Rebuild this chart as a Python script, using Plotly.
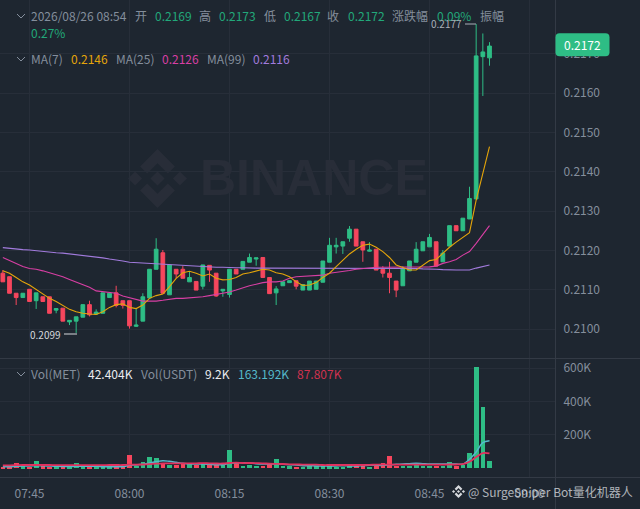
# Recreates the MET/USDT 1m candlestick chart with MA lines and a volume panel
import pandas as pd
import plotly.graph_objects as go

W = 640
H = 509

# Candle values, one per minute from 07:41
times = pd.date_range("2026-08-26 07:41", periods=74, freq="min")
opens = [.21142, .21133, .21091, .21080, .21101, .21072, .21082, .21082, .21048, .21053,
         .21018, .21020, .21030, .21062, .21038, .21040, .21080, .21092, .21072, .21072,
         .21007, .21020, .21079, .21152, .21194, .21087, .21152, .21152, .21120, .21121,
         .21109, .21162, .21142, .21097, .21088, .21152, .21152, .21170, .21178, .21182,
         .21131, .21092, .21110, .21118, .21123, .21099, .21099, .21101, .21119, .21170,
         .21209, .21211, .21231, .21254, .21222, .21198, .21203, .21152, .21142, .21122,
         .21110, .21148, .21170, .21199, .21209, .21222, .21171, .21211, .21263, .21250,
         .21280, .21331, .21693, .21690]
highs = [.21150, .21133, .21091, .21091, .21101, .21092, .21082, .21082, .21052, .21053,
         .21022, .21031, .21062, .21072, .21050, .21092, .21091, .21110, .21072, .21072,
         .21053, .21091, .21152, .21231, .21201, .21163, .21152, .21160, .21146, .21121,
         .21163, .21162, .21142, .21101, .21152, .21152, .21172, .21192, .21181, .21182,
         .21131, .21109, .21120, .21123, .21123, .21113, .21122, .21122, .21173, .21232,
         .21232, .21222, .21262, .21254, .21222, .21221, .21203, .21160, .21171, .21122,
         .21160, .21173, .21221, .21222, .21242, .21222, .21201, .21263, .21263, .21282,
         .21362, .21776, .21752, .21730]
lows = [.21120, .21091, .21061, .21080, .21070, .21051, .21070, .21040, .21040, .21020,
        .21010, .20990, .21030, .21032, .21036, .21040, .21080, .21055, .21052, .21001,
        .21005, .21020, .21079, .21152, .21091, .21087, .21129, .21129, .21120, .21099,
        .21101, .21120, .21082, .21082, .21080, .21140, .21152, .21170, .21161, .21131,
        .21090, .21061, .21110, .21118, .21101, .21099, .21099, .21101, .21119, .21170,
        .21192, .21191, .21222, .21211, .21171, .21197, .21150, .21131, .21091, .21081,
        .21110, .21148, .21170, .21199, .21209, .21160, .21171, .21211, .21250, .21250,
        .21280, .21331, .21593, .21670]
closes = [.21120, .21091, .21080, .21091, .21070, .21092, .21070, .21040, .21052, .21020,
          .21022, .21031, .21062, .21036, .21043, .21092, .21091, .21060, .21060, .21008,
          .21010, .21082, .21152, .21203, .21091, .21163, .21140, .21129, .21131, .21099,
          .21163, .21150, .21084, .21101, .21152, .21140, .21172, .21182, .21181, .21131,
          .21090, .21102, .21120, .21123, .21109, .21113, .21122, .21122, .21173, .21213,
          .21213, .21222, .21254, .21211, .21201, .21201, .21150, .21142, .21131, .21099,
          .21154, .21173, .21203, .21222, .21233, .21160, .21193, .21263, .21250, .21282,
          .21332, .21695, .21705, .21720]

# Moving averages
ma7 = [.21148, .21142, .21131, .21120, .21112, .21101, .21091, .21078, .21070, .21059,
       .21050, .21044, .21040, .21038, .21037, .21044, .21055, .21062, .21064, .21055,
       .21052, .21061, .21078, .21085, .21089, .21108, .21129, .21143, .21147, .21142,
       .21135, .21140, .21129, .21125, .21126, .21131, .21140, .21143, .21147, .21152,
       .21150, .21143, .21140, .21133, .21120, .21111, .21112, .21118, .21131, .21142,
       .21159, .21176, .21191, .21203, .21213, .21216, .21208, .21197, .21182, .21163,
       .21157, .21150, .21150, .21163, .21174, .21177, .21193, .21208, .21221, .21233,
       .21245, .21328, .21396, .21464]
ma25 = [.21182, .21174, .21165, .21159, .21154, .21152, .21148, .21143, .21137, .21133,
        .21126, .21120, .21114, .21106, .21097, .21095, .21094, .21091, .21084, .21079,
        .21074, .21071, .21071, .21071, .21073, .21075, .21078, .21078, .21079, .21080,
        .21082, .21085, .21088, .21091, .21094, .21099, .21105, .21110, .21114, .21118,
        .21120, .21120, .21122, .21129, .21133, .21134, .21135, .21135, .21137, .21142,
        .21144, .21147, .21149, .21152, .21154, .21156, .21157, .21157, .21157, .21157,
        .21157, .21157, .21157, .21157, .21158, .21160, .21167, .21171, .21177, .21188,
        .21197, .21218, .21242, .21263]
ma99 = [.21207, .21205, .21204, .21202, .21201, .21199, .21198, .21196, .21194, .21193,
        .21191, .21189, .21187, .21186, .21183, .21181, .21178, .21176, .21173, .21170,
        .21169, .21167, .21166, .21165, .21164, .21163, .21162, .21161, .21160, .21159,
        .21159, .21158, .21157, .21157, .21156, .21156, .21156, .21155, .21155, .21155,
        .21155, .21155, .21155, .21155, .21155, .21155, .21155, .21155, .21155, .21155,
        .21155, .21155, .21155, .21155, .21155, .21155, .21155, .21155, .21155, .21155,
        .21155, .21154, .21154, .21153, .21153, .21152, .21151, .21150, .21150, .21150,
        .21150, .21155, .21159, .21163]

# Volumes and their averages, in thousands
volumes = [6, 6, 32, 10, 8, 44, 10, 6, 8, 8,
           10, 28, 8, 8, 6, 6, 6, 6, 6, 76,
           12, 36, 64, 60, 24, 20, 20, 28, 24, 20,
           24, 16, 20, 16, 110, 28, 14, 16, 12, 14,
           24, 52, 12, 10, 6, 8, 10, 10, 10, 10,
           8, 8, 14, 12, 10, 6, 10, 28, 74, 12,
           12, 12, 16, 12, 14, 14, 12, 36, 10, 18,
           88, 604, 366, 42.404]
vol_ma5 = [8, 8, 10, 12, 12, 14, 14, 12, 10, 9,
           9, 10, 10, 10, 10, 8, 8, 8, 8, 16,
           18, 22, 30, 38, 44, 40, 34, 28, 24, 24,
           24, 22, 20, 20, 28, 30, 32, 30, 26, 24,
           24, 24, 22, 20, 18, 14, 14, 12, 12, 12,
           12, 14, 12, 12, 14, 16, 16, 16, 20, 22,
           24, 26, 28, 26, 24, 24, 24, 24, 24, 24,
           52, 96, 152, 163.192]
vol_ma10 = [16, 16, 17, 18, 18, 18, 18, 18, 17, 17,
            17, 17, 17, 17, 17, 17, 18, 18, 18, 20,
            20, 21, 23, 26, 27, 28, 28, 28, 28, 28,
            29, 28, 27, 27, 30, 32, 30, 30, 29, 28,
            26, 25, 24, 22, 22, 20, 20, 20, 18, 18,
            18, 18, 18, 18, 18, 19, 20, 21, 20, 20,
            20, 20, 20, 20, 20, 20, 20, 21, 21, 24,
            38, 66, 90, 87.807]

price_ticks = [.2100, .2110, .2120, .2130, .2140, .2150, .2160, .2170]
vol_ticks = [200000, 400000, 600000]
vol_labels = ["200K", "400K", "600K"]

BG = "#1E2630"
GRID = "#272E39"
BORDER = "#333A45"
GREY = "#848E9C"
GREEN = "#2EBD85"
RED = "#F6465D"
FONT = "Noto Sans CJK SC"


# Converts picture pixels into paper fractions
def px(x):
    return x / W


def py(y):
    return 1 - y / H


fig = go.Figure()

# Price panel
fig.add_trace(go.Candlestick(
    x=times, open=opens, high=highs, low=lows, close=closes,
    xaxis="x", yaxis="y", whiskerwidth=0,
    increasing=dict(line=dict(color=GREEN, width=1), fillcolor=GREEN),
    decreasing=dict(line=dict(color=RED, width=1), fillcolor=RED),
))
for values, color in [(ma99, "#A27BDD"), (ma25, "#D83FA4"), (ma7, "#E5A50A")]:
    fig.add_trace(go.Scatter(x=times, y=values, mode="lines", xaxis="x", yaxis="y",
                             line=dict(color=color, width=1.1)))

# Volume panel
bar_colors = [GREEN if c >= o else RED for o, c in zip(opens, closes)]
fig.add_trace(go.Bar(x=times, y=[v * 1000 for v in volumes], marker=dict(color=bar_colors, line_width=0),
                     xaxis="x2", yaxis="y2", width=42000))
fig.add_trace(go.Scatter(x=times, y=[v * 1000 for v in vol_ma5], mode="lines", xaxis="x2", yaxis="y2",
                         line=dict(color="#55B9CB", width=1.5, shape="spline")))
fig.add_trace(go.Scatter(x=times, y=[v * 1000 for v in vol_ma10], mode="lines", xaxis="x2", yaxis="y2",
                         line=dict(color="#E0325F", width=1.8, shape="spline")))

# Header and legend texts: text, left edge, middle, colour
texts = [
    ("2026/08/26 08:54", 29, 16, GREY), ("开", 133, 16, GREY), ("0.2169", 153, 16, "#22A87A"),
    ("高", 197, 16, GREY), ("0.2173", 217, 16, "#22A87A"), ("低", 262, 16, GREY),
    ("0.2167", 282, 16, "#22A87A"), ("收", 325, 16, GREY), ("0.2172", 346, 16, "#22A87A"),
    ("涨跌幅", 390, 16, GREY), ("0.09%", 435, 16, "#22A87A"), ("振幅", 478, 16, GREY),
    ("0.27%", 29, 33, "#22A87A"),
    ("MA(7)", 29, 58.5, GREY), ("0.2146", 69, 58.5, "#E5A50A"), ("MA(25)", 114, 58.5, GREY),
    ("0.2126", 160, 58.5, "#D83FA4"), ("MA(99)", 205, 58.5, GREY), ("0.2116", 251, 58.5, "#A27BDD"),
    ("Vol(MET)", 29, 373.5, GREY), ("42.404K", 86, 373.5, "#EAECEF"), ("Vol(USDT)", 139, 373.5, GREY),
    ("9.2K", 203, 373.5, "#EAECEF"), ("163.192K", 236, 373.5, "#55B9CB"), ("87.807K", 295, 373.5, "#D0324F"),
]
annotations = []
for text, x, y, color in texts:
    annotations.append(dict(text=text, x=px(x), y=py(y), xref="paper", yref="paper", xanchor="left",
                            yanchor="middle", showarrow=False, font=dict(family=FONT, size=12, color=color)))

# High and low markers on the candles
annotations.append(dict(text="0.2177", x=px(464), y=py(24), xref="paper", yref="paper", xanchor="right",
                        yanchor="middle", showarrow=False, font=dict(family=FONT, size=10, color="#A9AFB8")))
annotations.append(dict(text="0.2099", x=px(63), y=py(334), xref="paper", yref="paper", xanchor="right",
                        yanchor="middle", showarrow=False, font=dict(family=FONT, size=10, color="#D5D8DC")))

# Last price tag, big watermark and bottom watermark
annotations.append(dict(text="0.2172", x=px(582), y=py(44.7), xref="paper", yref="paper", showarrow=False,
                        xanchor="center", yanchor="middle",
                        font=dict(family=FONT, size=12, color="#FFFFFF")))
annotations.append(dict(text="BINANCE", x=px(314), y=py(178), xref="paper", yref="paper", showarrow=False,
                        xanchor="center", yanchor="middle",
                        font=dict(family="Liberation Sans", size=50, color="#282D38", weight="bold")))
annotations.append(dict(text="@ SurgeSniper Bot量化机器人", x=px(466), y=py(491), xref="paper", yref="paper",
                        xanchor="left", yanchor="middle", showarrow=False,
                        font=dict(family=FONT, size=12, color="rgba(225,228,232,0.75)")))

shapes = []


def add_line(x0, y0, x1, y1, color, width=1):
    shapes.append(dict(type="line", xref="paper", yref="paper", x0=px(x0), y0=py(y0), x1=px(x1), y1=py(y1),
                       line=dict(color=color, width=width)))


def add_polygon(points, color, layer="between"):
    path = "M " + " L ".join(f"{px(x)} {py(y)}" for x, y in points) + " Z"
    shapes.append(dict(type="path", xref="paper", yref="paper", path=path, fillcolor=color,
                       line=dict(width=0), layer=layer))


# Draws the diamond logo around a centre
def add_logo(cx, cy, r, color, layer="between"):
    chevron = [(0, -1), (.59, -.41), (.35, -.17), (0, -.52), (-.35, -.17), (-.59, -.41)]
    add_polygon([(cx + r * a, cy + r * b) for a, b in chevron], color, layer)
    add_polygon([(cx + r * a, cy - r * b) for a, b in chevron], color, layer)
    for dx in [-.76, 0, .76]:
        d = .24
        add_polygon([(cx + r * (dx - d), cy), (cx + r * dx, cy - r * d),
                     (cx + r * (dx + d), cy), (cx + r * dx, cy + r * d)], color, layer)


add_logo(157.5, 178.5, 29.5, "#282D38")
add_logo(458.5, 491.5, 6.5, "#D5D8DC", "above")

# Panel borders
add_line(0, 358.5, 640, 358.5, BORDER, 1.2)
add_line(0, 477.5, 640, 477.5, BORDER)
add_line(555.5, 0, 555.5, 509, BORDER)

# Dashes next to the high and low values
add_line(465, 24, 476, 24, "#A9AFB8")
add_line(64, 334, 77, 334, "#D5D8DC")

# Chevrons in front of the legend rows
for y in [14, 57, 372]:
    shapes.append(dict(type="path", xref="paper", yref="paper",
                       path=f"M {px(17)} {py(y)} L {px(21)} {py(y + 4)} L {px(25)} {py(y)}",
                       line=dict(color=GREY, width=1)))

# Rounded tag behind the last price
shapes.append(dict(type="path", xref="paper", yref="paper", xsizemode="pixel", ysizemode="pixel",
                   xanchor=px(555.5), yanchor=py(44.7), layer="above", fillcolor=GREEN, line=dict(width=0),
                   path="M 4 -11.5 L 50 -11.5 Q 54 -11.5 54 -7.5 L 54 7.5 Q 54 11.5 50 11.5 "
                        "L 4 11.5 Q 0 11.5 0 7.5 L 0 -7.5 Q 0 -11.5 4 -11.5 Z"))

x_range = ["2026-08-26 07:40:34.5", "2026-08-26 09:03:49.5"]
x_common = dict(
    range=x_range, type="date", tick0="2026-08-26 07:45", dtick=900000, tickformat="%H:%M",
    showgrid=True, gridcolor=GRID, gridwidth=1, zeroline=False, showline=False,
    rangeslider=dict(visible=False),
    tickfont=dict(family=FONT, size=12, color=GREY),
)

fig.update_layout(
    width=W, height=H, margin=dict(l=0, r=0, t=0, b=0),
    paper_bgcolor=BG, plot_bgcolor=BG, showlegend=False, boxgap=.2, bargap=0,
    annotations=annotations, shapes=shapes,
    xaxis=dict(domain=[0, px(555)], anchor="y", showticklabels=False, ticks="", **x_common),
    xaxis2=dict(domain=[0, px(555)], anchor="y2", showticklabels=True, ticks="outside", ticklen=6,
                tickcolor="rgba(0,0,0,0)", **x_common),
    yaxis=dict(domain=[py(358), 1], range=[.209262, .218372], side="right", anchor="x",
               tickvals=price_ticks, tickformat=".4f", gridcolor=GRID, zeroline=False, showline=False,
               ticks="outside", ticklen=5, tickcolor="rgba(0,0,0,0)",
               tickfont=dict(family=FONT, size=12, color=GREY)),
    yaxis2=dict(domain=[py(477), py(359)], range=[-54000, 654600], side="right", anchor="x2",
                tickvals=vol_ticks, ticktext=vol_labels, gridcolor=GRID, zeroline=False, showline=False,
                ticks="outside", ticklen=5, tickcolor="rgba(0,0,0,0)",
                tickfont=dict(family=FONT, size=12, color=GREY)),
)

# The page must start at the window corner, without the default body margin
fig.write_html("out.html", config=dict(displayModeBar=False),
               post_script="document.body.style.margin='0';document.body.style.overflow='hidden';")
